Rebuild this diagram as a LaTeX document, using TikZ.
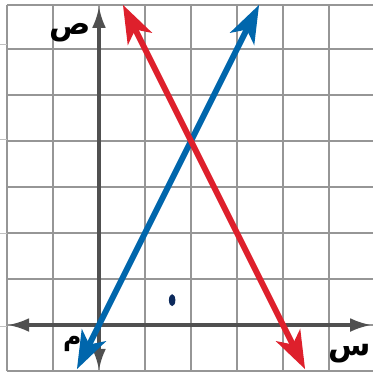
\documentclass[tikz,border=0pt]{standalone}
\usepackage{fontspec}
\usepackage{xcolor}
\usepackage{tikz}
\usetikzlibrary{calc, arrows.meta, positioning}
\TeXXeTstate=1
\newfontfamily\arabicfont[Script=Arabic]{DejaVu Sans}

\definecolor{lineblue}{RGB}{0,102,172}
\definecolor{linered}{RGB}{222,32,44}
\definecolor{axisgray}{RGB}{80,80,80}
\definecolor{gridgray}{RGB}{150,150,150}
\definecolor{dotnavy}{RGB}{12,42,92}

\tikzset{
    gridline/.style={gridgray, line width=1pt},
    axisline/.style={axisgray, line width=2pt, {Latex[length=0.46cm, width=0.3cm]}-{Latex[length=0.46cm, width=0.3cm]}},
    graphline/.style={line width=3.7pt, {Stealth[length=0.82cm, width=0.58cm, inset=0.22cm]}-{Stealth[length=0.82cm, width=0.58cm, inset=0.22cm]}},
    arlabel/.style={font=\arabicfont\bfseries\fontsize{19}{22}\selectfont, inner sep=0pt}
}

\begin{document}
\begin{tikzpicture}[>=latex]
    \useasboundingbox (-2.152,-1.130) rectangle (5.978,7.065);

    % 1. Lưới
    \foreach \x in {-2,...,5} {
        \draw[gridline] (\x,-1) -- (\x,6.96);
    }
    \foreach \y in {-1,...,6} {
        \draw[gridline] (-2,\y) -- (5.95,\y);
    }
    \draw[gridline] (-2,6.96) -- (5.95,6.96);
    \foreach \y in {-0.04,1.98,4.04,6.1} {
        \draw[gridgray!60, line width=0.6pt] (-2.152,\y) -- (-2,\y);
    }

    % 2. Trục tọa độ
    \coordinate (xl) at (-1.98,0);
    \coordinate (xr) at (5.92,0);
    \coordinate (yb) at (0,-0.98);
    \coordinate (yt) at (0,6.92);
    \draw[axisline] (xl) -- (xr);
    \draw[axisline] (yb) -- (yt);
    \node[arlabel] (lx) at (5.46,-0.62) {\beginR س\endR};
    \node[arlabel] (ly) at (-0.63,6.36) {\beginR ص\endR};
    \node[arlabel, font=\arabicfont\bfseries\fontsize{15.5}{18}\selectfont] (lo) at (-0.58,-0.42) {\beginR م\endR};

    % 3. Đường thẳng y = 2x
    \coordinate (b1) at (-0.48,-0.96);
    \coordinate (b2) at (3.48,6.96);
    \draw[graphline, lineblue] (b1) -- (b2);

    % 4. Đường thẳng y = -2x + 8
    \coordinate (r1) at (0.52,6.96);
    \coordinate (r2) at (4.48,-0.96);
    \draw[graphline, linered] (r1) -- (r2);

    % 5. Dấu chấm
    \fill[dotnavy] (1.59,0.54) ellipse (0.07 and 0.13);
\end{tikzpicture}
\end{document}
